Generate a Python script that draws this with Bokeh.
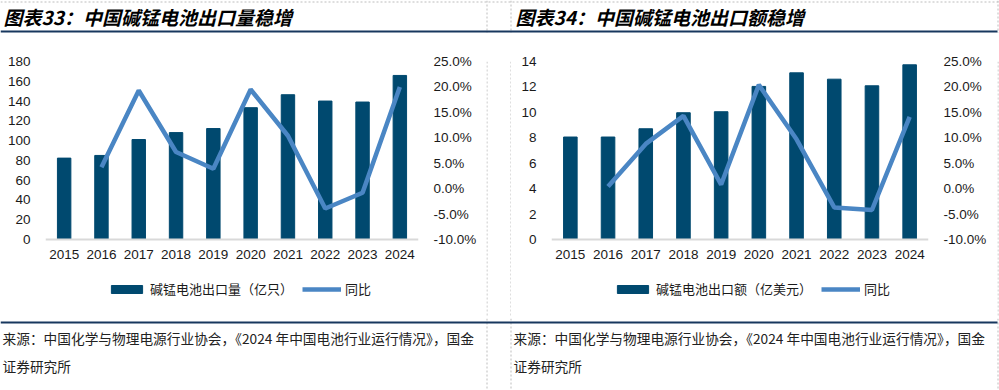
from bokeh.plotting import figure
from bokeh.models import (Range1d, LinearAxis, FactorRange, Legend, LegendItem,
                          PrintfTickFormatter, FixedTicker)
from bokeh.layouts import column, row
from bokeh.embed import file_html
from bokeh.resources import INLINE
from bokeh.core.properties import value

# ---------------- data ----------------
years = ["2015", "2016", "2017", "2018", "2019", "2020", "2021", "2022", "2023", "2024"]
qty = [82.3, 85.0, 101.1, 108.1, 112.2, 133.3, 146.4, 140.0, 139.0, 165.9]          # 亿只
qty_yoy = [float("nan"), 4.2, 19.3, 7.2, 3.9, 19.5, 10.4, -3.9, -0.8, 20.0]        # %
val = [8.06, 8.06, 8.71, 9.97, 10.05, 12.04, 13.11, 12.61, 12.09, 13.74]           # 亿美元
val_yoy = [float("nan"), 0.4, 8.8, 14.3, 0.8, 20.4, 9.7, -3.7, -4.2, 14.1]         # %

qty_ticks = [0, 20, 40, 60, 80, 100, 120, 140, 160, 180]
val_ticks = [0, 2, 4, 6, 8, 10, 12, 14]
pct_ticks = [-10, -5, 0, 5, 10, 15, 20, 25]
pct_min, pct_max = -10, 25

title_left = "图表33：中国碱锰电池出口量稳增"
title_right = "图表34：中国碱锰电池出口额稳增"
legend_left = "碱锰电池出口量（亿只）"
legend_right = "碱锰电池出口额（亿美元）"
legend_yoy = "同比"
source_1 = "来源：中国化学与物理电源行业协会，《2024 年中国电池行业运行情况》，国金"
source_2 = "证券研究所"

# ---------------- styles ----------------
BAR = "#00496F"
LINE = "#4A86C4"
NAVY = "#17375E"
DASH = "#BDBDBD"
CJK = "Noto Sans CJK SC"
LAT = "Liberation Sans"
TXT = "#1a1a1a"

TOTAL_W = 999
TOP_H = 33
MID_H = 285
BOT_H = 72
LEFT_W = 486
GUT_W = 25
RIGHT_W = 486
EDGE_W = 2
VX = [486.5, 510.5, 997.5]   # dashed panel borders

PLOT_H = 178          # height of the value area (0 .. max)
FRAME_TOP = 28
FRAME_H = MID_H - FRAME_TOP - 2   # frame extends below the baseline to hold the legend


def blank(w, h):
    f = figure(width=w, height=h, x_range=Range1d(0, w), y_range=Range1d(h, 0),
               x_axis_type=None, y_axis_type=None, output_backend="svg",
               toolbar_location=None, min_border=0)
    f.outline_line_color = None
    f.background_fill_color = "white"
    f.border_fill_color = "white"
    return f


def chart(bars, yoy, ymax, yticks, bar_label, width, mb_left, frame_w, leg_x):
    ext = (FRAME_H - PLOT_H) / PLOT_H
    p = figure(width=width, height=MID_H,
               x_range=FactorRange(*years), y_range=Range1d(-ymax * ext, ymax),
               output_backend="svg", toolbar_location=None,
               min_border_left=mb_left, min_border_right=width - mb_left - frame_w,
               min_border_top=FRAME_TOP, min_border_bottom=MID_H - FRAME_TOP - FRAME_H)
    p.outline_line_color = None
    p.xgrid.visible = False
    p.ygrid.visible = False
    span = pct_max - pct_min
    p.extra_y_ranges = {"pct": Range1d(pct_min - span * ext, pct_max)}

    br = p.vbar(x=years, top=bars, width=0.36, color=BAR)
    lr = p.line(x=years, y=yoy, y_range_name="pct", line_color=LINE, line_width=4.5)

    ax_r = LinearAxis(y_range_name="pct", ticker=FixedTicker(ticks=pct_ticks),
                      formatter=PrintfTickFormatter(format="%.1f%%"))
    p.add_layout(ax_r, "right")
    p.yaxis[0].ticker = FixedTicker(ticks=yticks)

    for ax in p.yaxis:
        ax.axis_line_color = None
        ax.major_tick_line_color = None
        ax.minor_tick_line_color = None
        ax.major_label_text_font = LAT
        ax.major_label_text_font_size = "13.5px"
        ax.major_label_text_color = TXT
        ax.major_label_standoff = 9
    xa = p.xaxis[0]
    xa.fixed_location = 0
    xa.axis_line_color = "#D9D9D9"
    xa.axis_line_width = 2
    xa.major_tick_line_color = None
    xa.minor_tick_line_color = None
    xa.major_label_text_font = LAT
    xa.major_label_text_font_size = "13.5px"
    xa.major_label_text_color = TXT
    xa.major_label_standoff = 4

    leg = Legend(items=[LegendItem(label=bar_label, renderers=[br]),
                        LegendItem(label=legend_yoy, renderers=[lr])],
                 orientation="horizontal", location=(leg_x, 18),
                 glyph_width=39, glyph_height=10, label_standoff=4, spacing=9,
                 padding=0, margin=0, border_line_color=None,
                 background_fill_alpha=0,
                 label_text_font=CJK, label_text_font_size="13px",
                 label_text_color=TXT)
    p.add_layout(leg, "center")
    return p


# ---------------- top band ----------------
top = blank(TOTAL_W, TOP_H)
top.segment(x0=[0], y0=[1.5], x1=[TOTAL_W], y1=[1.5], line_color=DASH, line_width=1, line_dash="2 2")
top.segment(x0=VX, y0=[0] * 3, x1=VX, y1=[TOP_H] * 3,
            line_color=DASH, line_width=1, line_dash="2 2")
top.segment(x0=[0], y0=[31], x1=[997], y1=[31], line_color=NAVY, line_width=1.8)
top.text(x=[3, 515], y=[16, 16], text=[title_left, title_right],
         text_font=value(CJK), text_font_style="bold italic", text_font_size="19px",
         text_color="#000000", text_baseline="middle", text_align="left")

# ---------------- middle band ----------------
left = chart(qty, qty_yoy, 180, qty_ticks, legend_left, LEFT_W, 45, 373, 62)
right = chart(val, val_yoy, 14, val_ticks, legend_right, RIGHT_W, 40, 377, 62)

gut = blank(GUT_W, MID_H)
gut.segment(x0=[0.5, GUT_W - 0.5], y0=[0, 0], x1=[0.5, GUT_W - 0.5], y1=[MID_H, MID_H],
            line_color=DASH, line_width=1, line_dash="2 2")
edge = blank(EDGE_W, MID_H)
edge.segment(x0=[0.5], y0=[0], x1=[0.5], y1=[MID_H], line_color=DASH, line_width=1, line_dash="2 2")

mid = row(left, gut, right, edge, spacing=0)

# ---------------- bottom band ----------------
bot = blank(TOTAL_W, BOT_H)
bot.segment(x0=VX, y0=[0] * 3, x1=VX, y1=[BOT_H] * 3,
            line_color=DASH, line_width=1, line_dash="2 2")
bot.segment(x0=[0], y0=[4], x1=[997], y1=[4], line_color=NAVY, line_width=1.8)
bot.text(x=[2, 2, 513, 513], y=[19, 47, 19, 47], text=[source_1, source_2, source_1, source_2],
         text_font=value(CJK), text_font_size="13.7px", text_color="#222222",
         text_baseline="middle", text_align="left")

page = column(top, mid, bot, spacing=0)

open("out.html", "w").write(file_html(page, INLINE))
